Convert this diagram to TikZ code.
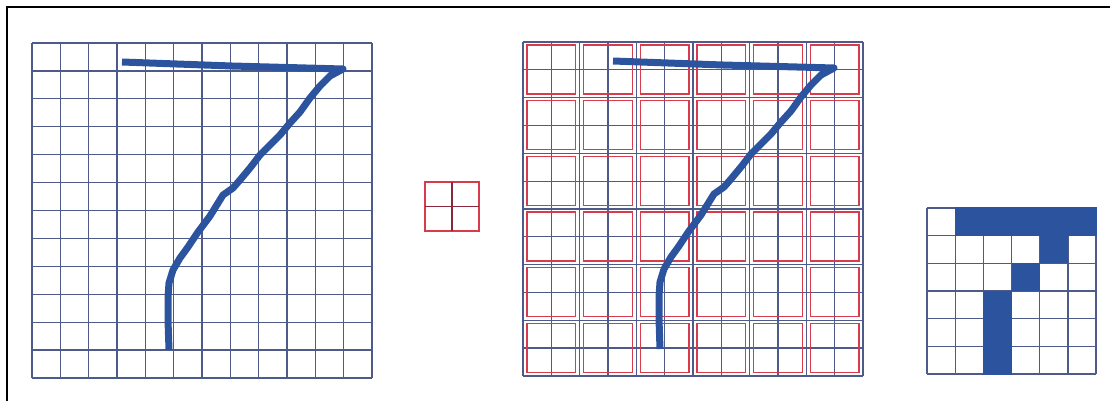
\documentclass[tikz,border=0pt]{standalone}
\usepackage{tikz,xcolor}
\usetikzlibrary{calc}
\definecolor{gridblue}{RGB}{78,90,138}
\definecolor{inkblue}{RGB}{44,84,158}
\definecolor{boxred}{RGB}{214,60,76}
\definecolor{darkred}{RGB}{140,40,60}

\begin{document}
\begin{tikzpicture}[x=1pt,y=-1pt,
  gridline/.style={gridblue,line width=1.3pt},
  redbox/.style={boxred,line width=1.2pt},
  seven/.style={inkblue,line width=7pt,line join=round,line cap=butt}]
 \useasboundingbox (0,0) rectangle (1110,401);
 \draw[line width=2pt] (7,401) -- (7,7) -- (1110,7);

 \begin{scope}[shift={(32,43)}]
    \foreach \i in {0,...,12} {
      \draw[gridline] (\i*28.33,0) -- (\i*28.33,335);
      \draw[gridline] (0,\i*27.92) -- (340,\i*27.92);
    }
    \draw[seven] (90,19) -- (200,23) -- (311,26) -- (298,33) -- (288,43) -- (278,55)
      -- (268,69) -- (258,80) -- (248,92) -- (238,102) -- (228,112) -- (218,125)
      -- (208,137) -- (201,145) -- (191,152) -- (178,173) -- (166,189) -- (156,204)
      -- (148,215) -- (141,227) -- (137,240) -- (136,254) -- (136,277) -- (137,307);
 \end{scope}

 \begin{scope}[shift={(425,182)}]
    \draw[redbox] (0,0) rectangle (54,49);
    \draw[darkred,line width=1.2pt] (27,0) -- (27,49);
    \draw[darkred,line width=1.2pt] (0,24.5) -- (54,24.5);
 \end{scope}

 \begin{scope}[shift={(523,42)}]
    \foreach \i in {0,...,12} {
      \draw[gridline] (\i*28.33,0) -- (\i*28.33,334);
      \draw[gridline] (0,\i*27.83) -- (340,\i*27.83);
    }
    \foreach \i in {0,...,5}
      \foreach \j in {0,...,5}
        \draw[redbox] (\i*56.67+4,\j*55.67+3) rectangle (\i*56.67+52.67,\j*55.67+52);
    \draw[seven] (90,19) -- (200,23) -- (311,26) -- (298,33) -- (288,43) -- (278,55)
      -- (268,69) -- (258,80) -- (248,92) -- (238,102) -- (228,112) -- (218,125)
      -- (208,137) -- (201,145) -- (191,152) -- (178,173) -- (166,189) -- (156,204)
      -- (148,215) -- (141,227) -- (137,240) -- (136,254) -- (136,277) -- (137,307);
 \end{scope}

 \begin{scope}[shift={(927,208)}]
    \foreach \i in {0,...,6} {
      \draw[gridline] (\i*28.17,0) -- (\i*28.17,166);
      \draw[gridline] (0,\i*27.67) -- (169,\i*27.67);
    }
    \fill[inkblue] (28.17,-0.6) rectangle (169.6,27.67);
    \fill[inkblue] (4*28.17,27) rectangle (5*28.17,2*27.67);
    \fill[inkblue] (3*28.17,2*27.67) rectangle (4*28.17,3*27.67);
    \fill[inkblue] (2*28.17,3*27.67) rectangle (3*28.17,166.6);
 \end{scope}
\end{tikzpicture}
\end{document}
